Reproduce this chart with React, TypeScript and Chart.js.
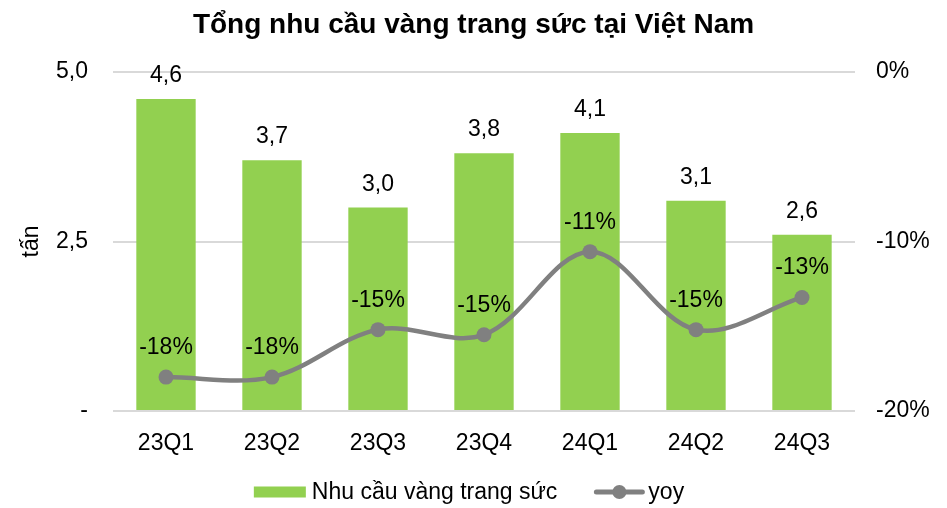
import React, { useEffect, useRef } from "react";
import { Chart, registerables } from "chart.js";

Chart.register(...registerables);

const categories = ["23Q1", "23Q2", "23Q3", "23Q4", "24Q1", "24Q2", "24Q3"];
const demand = [4.6, 3.7, 3.0, 3.8, 4.1, 3.1, 2.6];
const yoy = [-18.0, -18.0, -15.2, -15.5, -10.6, -15.2, -13.3];
const yoyLabels = ["-18%", "-18%", "-15%", "-15%", "-11%", "-15%", "-13%"];
const demandLabels = ["4,6", "3,7", "3,0", "3,8", "4,1", "3,1", "2,6"];
const legendNames = ["Nhu cầu vàng trang sức", "yoy"];

const FONT = "'Liberation Sans', Arial, sans-serif";
const FS = 23;
const GREEN = "#92D050";
const GREY = "#808080";

const labelPlugin = {
  id: "valueLabels",
  afterDatasetsDraw(chart: any) {
    const ctx = chart.ctx;
    ctx.save();
    ctx.font = `${FS}px ${FONT}`;
    ctx.fillStyle = "#000";
    ctx.textAlign = "center";
    ctx.textBaseline = "alphabetic";
    const barMeta = chart.getDatasetMeta(0);
    barMeta.data.forEach((el: any, i: number) => {
      ctx.fillText(demandLabels[i], el.x, el.y - 17);
    });
    const lineMeta = chart.getDatasetMeta(1);
    lineMeta.data.forEach((el: any, i: number) => {
      ctx.fillText(yoyLabels[i], el.x, el.y - 23);
    });
    ctx.restore();
  },
};

const legendPlugin = {
  id: "customLegend",
  afterDraw(chart: any) {
    const ctx = chart.ctx;
    ctx.save();
    ctx.font = `${FS}px ${FONT}`;
    ctx.textBaseline = "middle";
    ctx.textAlign = "left";
    const w1 = ctx.measureText(legendNames[0]).width;
    const w2 = ctx.measureText(legendNames[1]).width;
    const total = 52 + 6 + w1 + 36 + 52 + 3 + w2;
    const cy = 492;
    let x = 469 - total / 2;
    ctx.fillStyle = GREEN;
    ctx.fillRect(x, cy - 5.5, 52, 11);
    x += 52 + 6;
    ctx.fillStyle = "#000";
    ctx.fillText(legendNames[0], x, cy + 1);
    x += w1 + 36;
    ctx.strokeStyle = GREY;
    ctx.lineWidth = 5;
    ctx.lineCap = "round";
    ctx.beginPath();
    ctx.moveTo(x + 3, cy);
    ctx.lineTo(x + 49, cy);
    ctx.stroke();
    ctx.fillStyle = GREY;
    ctx.beginPath();
    ctx.arc(x + 26, cy, 7, 0, Math.PI * 2);
    ctx.fill();
    x += 52 + 3;
    ctx.fillStyle = "#000";
    ctx.fillText(legendNames[1], x, cy + 1);
    ctx.restore();
  },
};

export default function App() {
  const ref = useRef<HTMLCanvasElement>(null);
  useEffect(() => {
    const chart = new Chart(ref.current!, {
      data: {
        labels: categories,
        datasets: [
          {
            type: "bar",
            label: legendNames[0],
            data: demand,
            backgroundColor: GREEN,
            yAxisID: "y",
            categoryPercentage: 1,
            barPercentage: 0.56,
            order: 2,
          },
          {
            type: "line",
            label: legendNames[1],
            data: yoy,
            borderColor: GREY,
            backgroundColor: GREY,
            borderWidth: 4.5,
            pointRadius: 7.5,
            pointBackgroundColor: GREY,
            pointBorderWidth: 0,
            tension: 0.35,
            yAxisID: "y1",
            order: 1,
          },
        ],
      } as any,
      options: {
        animation: false,
        responsive: true,
        maintainAspectRatio: false,
        layout: { padding: 0 },
        plugins: {
          title: {
            display: true,
            text: "Tổng nhu cầu vàng trang sức tại Việt Nam",
            font: { family: FONT, size: 28, weight: "bold" },
            color: "#000",
            padding: { top: 8, bottom: 30.4 },
          },
          legend: { display: false },
          tooltip: { enabled: false },
        },
        scales: {
          x: {
            grid: { display: false, drawTicks: false },
            border: { display: false },
            ticks: { font: { family: FONT, size: FS }, color: "#000", padding: 19 },
            afterFit: (s: any) => {
              s.height = 508 - 411;
            },
          },
          y: {
            position: "left",
            min: 0,
            max: 5,
            afterFit: (s: any) => {
              s.width = 113;
            },
            ticks: {
              stepSize: 2.5,
              font: { family: FONT, size: FS },
              color: "#000",
              padding: 25,
              callback: (v: any) => (v === 0 ? "-" : Number(v).toFixed(1).replace(".", ",")),
            },
            grid: { color: "#d9d9d9", lineWidth: 2, drawTicks: false },
            border: { display: false },
            title: {
              display: true,
              text: "tấn",
              font: { family: FONT, size: FS },
              color: "#000",
              padding: { top: 18, bottom: 0 },
            },
          },
          y1: {
            position: "right",
            min: -20,
            max: 0,
            afterFit: (s: any) => {
              s.width = 947 - 855;
            },
            ticks: {
              stepSize: 10,
              font: { family: FONT, size: FS },
              color: "#000",
              padding: 21,
              callback: (v: any) => `${v}%`,
            },
            grid: { display: false, drawTicks: false },
            border: { display: false },
          },
        },
      } as any,
      plugins: [labelPlugin, legendPlugin],
    });
    return () => chart.destroy();
  }, []);
  return (
    <div style={{ position: "fixed", left: 0, top: 0, width: 947, height: 508, background: "#fff" }}>
      <canvas ref={ref} />
    </div>
  );
}
